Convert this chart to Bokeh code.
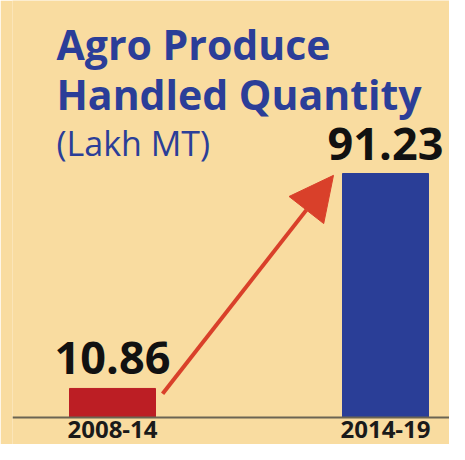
from bokeh.plotting import figure
from bokeh.models import Range1d, Label, LabelSet, Arrow, NormalHead, ColumnDataSource, Span
from bokeh.core.properties import value
from bokeh.embed import file_html
from bokeh.resources import INLINE

# ---- data ----
periods = ["2008-14", "2014-19"]
quantities = [10.86, 91.23]
title_lines = ["Agro Produce", "Handled Quantity"]
unit_text = "(Lakh MT)"

# ---- styles / layout ----
BG = "#F9DCA0"
BLUE = "#2B3E98"
BAR_COLORS = ["#BC1E24", "#2A3E97"]
ARROW = "#D9402A"
FONT = "Open Sans"
W, H = 449, 444
LEFT = 12                 # frame left border (px)
AXIS_PX = 417             # pixel row of the baseline
X0_PX, XSTEP = 100, 273   # frame px of first category, px per category
KY = (AXIS_PX - 173) / 91.23   # px per unit on y
bar_w = 86 / XSTEP

def px_x(px):
    return (px - LEFT - X0_PX) / XSTEP

def px_y(py):
    return (AXIS_PX - py) / KY

xs = list(range(len(periods)))
src = ColumnDataSource(dict(
    x=xs, q=quantities, period=periods, color=BAR_COLORS,
    qlabel=[f"{v:.2f}" for v in quantities], zero=[0] * len(xs),
))

p = figure(width=W, height=H, output_backend="svg", toolbar_location=None,
           x_range=Range1d(px_x(LEFT), px_x(W)), y_range=Range1d(px_y(H), px_y(0)),
           min_border_left=LEFT, min_border_right=0, min_border_top=0, min_border_bottom=0,
           background_fill_color=BG, border_fill_color=BG, outline_line_color=None)
p.axis.visible = False
p.grid.visible = False

p.vbar(x="x", bottom=0, top="q", width=bar_w, color="color", source=src)

p.add_layout(Span(location=0, dimension="width", line_color="#6B6452", line_width=2))

# value labels
p.add_layout(LabelSet(x="x", y="q", text="qlabel", source=src, y_offset=14,
                      text_align="center", text_baseline="alphabetic",
                      text_font=value(FONT), text_font_style="bold", text_font_size="45px",
                      text_color="#111111"))
# category labels
p.add_layout(LabelSet(x="x", y="zero", text="period", source=src, y_offset=-20,
                      text_align="center", text_baseline="alphabetic",
                      text_font=value(FONT), text_font_style="bold", text_font_size="24px",
                      text_color="#1A1A1A"))

# arrow from first bar to second
p.add_layout(Arrow(end=NormalHead(size=44, fill_color=ARROW, line_color=ARROW),
                   x_start=xs[0] + bar_w / 2 + 0.026, y_start=quantities[0] - 2,
                   x_end=xs[1] - bar_w / 2 - 0.033, y_end=quantities[1] - 0.7,
                   line_color=ARROW, line_width=4))

# title
p.add_layout(Label(x=px_x(56), y=px_y(43), text=title_lines[0],
                   text_font=FONT, text_font_style="bold", text_font_size="41px",
                   text_color=BLUE, text_baseline="alphabetic"))
p.add_layout(Label(x=px_x(56), y=px_y(93), text=title_lines[1],
                   text_font=FONT, text_font_style="bold", text_font_size="41px",
                   text_color=BLUE, text_baseline="alphabetic"))
p.add_layout(Label(x=px_x(56), y=px_y(142), text=unit_text,
                   text_font=FONT, text_font_style="normal", text_font_size="34px",
                   text_color=BLUE, text_baseline="alphabetic"))

open("out.html", "w").write(file_html(p, INLINE))
